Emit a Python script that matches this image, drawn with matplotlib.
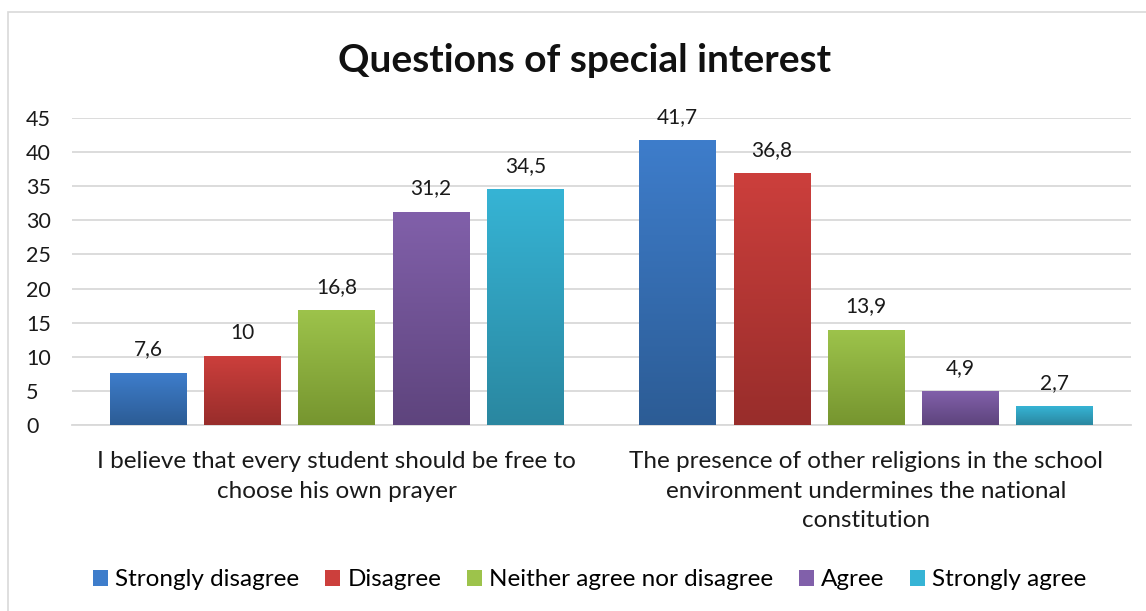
import matplotlib
matplotlib.use("Agg")
import matplotlib.pyplot as plt
import numpy as np
from matplotlib.colors import LinearSegmentedColormap
from matplotlib.patches import Rectangle, Patch

plt.rcParams['font.family'] = ['Lato', 'DejaVu Sans']

title = "Questions of special interest"
questions = [
    "I believe that every student should be free to\nchoose his own prayer",
    "The presence of other religions in the school\nenvironment undermines the national\nconstitution",
]
answers = ["Strongly disagree", "Disagree", "Neither agree nor disagree",
           "Agree", "Strongly agree"]
# percentage per answer, one list per question
values = {
    "Strongly disagree": [7.6, 41.7],
    "Disagree": [10, 36.8],
    "Neither agree nor disagree": [16.8, 13.9],
    "Agree": [31.2, 4.9],
    "Strongly agree": [34.5, 2.7],
}
y_ticks = [0, 5, 10, 15, 20, 25, 30, 35, 40, 45]

# (top, bottom) colours of the bar gradients
shades = [("#3e7dcb", "#2c5c95"), ("#cc3f3c", "#982d2b"), ("#9dc34b", "#76952f"),
          ("#8160aa", "#5e447d"), ("#36b4d5", "#2a87a0")]

fig = plt.figure(figsize=(11.46, 6.11), dpi=100)
ax = fig.add_axes([72 / 1146, 186 / 611, 1059 / 1146, 307 / 611])

# chart frame
fig.add_artist(Rectangle((8 / 1146, -0.05), 1.2, (611 - 12) / 611 + 0.05,
                         transform=fig.transFigure, fill=False,
                         edgecolor="#d9d9d9", linewidth=1.2))

bar_w = 0.1454
step = 0.178
x = np.arange(len(questions))
for i, name in enumerate(answers):
    top, bottom = shades[i]
    cmap = LinearSegmentedColormap.from_list(name, [bottom, top])
    xs = x + (i - 2) * step
    for xc, v in zip(xs, values[name]):
        grad = np.linspace(0, 1, 256).reshape(-1, 1)
        ax.imshow(grad, cmap=cmap, origin="lower", aspect="auto",
                  extent=(xc - bar_w / 2, xc + bar_w / 2, 0, v), zorder=3)
        label = f"{v:g}".replace(".", ",")
        ax.text(xc, v + 2.0, label, ha="center", va="bottom",
                fontsize=15, color="#1a1a1a", zorder=4)

ax.set_xlim(-0.5, 1.5)
ax.set_ylim(0, 45)
ax.set_yticks(y_ticks)
ax.set_xticks(x)
ax.set_xticklabels(questions, fontsize=17.5, color="#1a1a1a", linespacing=1.5)
ax.tick_params(axis="y", labelsize=15.5, labelcolor="#1a1a1a", length=0, pad=33)
ax.tick_params(axis="x", length=0, pad=19)
for lbl in ax.get_yticklabels():
    lbl.set_horizontalalignment("left")
ax.yaxis.grid(True, color="#d9d9d9", linewidth=1.3, zorder=0)
ax.set_axisbelow(True)
for s in ["top", "right", "left"]:
    ax.spines[s].set_visible(False)
ax.spines["bottom"].set_color("#d9d9d9")
ax.spines["bottom"].set_linewidth(1.3)

fig.text(585 / 1146, 1 - 61 / 611, title, ha="center", va="center",
         fontsize=28, fontweight="bold", color="#111111")

handles = [Patch(facecolor=c[0], edgecolor="none") for c in shades]
fig.legend(handles, answers, loc="center", bbox_to_anchor=(590 / 1146, 1 - 580 / 611),
           ncol=5, frameon=False, fontsize=17.5, handlelength=0.6, handleheight=0.6,
           handletextpad=0.3, columnspacing=1.07)

fig.savefig("out.png", dpi=100)
